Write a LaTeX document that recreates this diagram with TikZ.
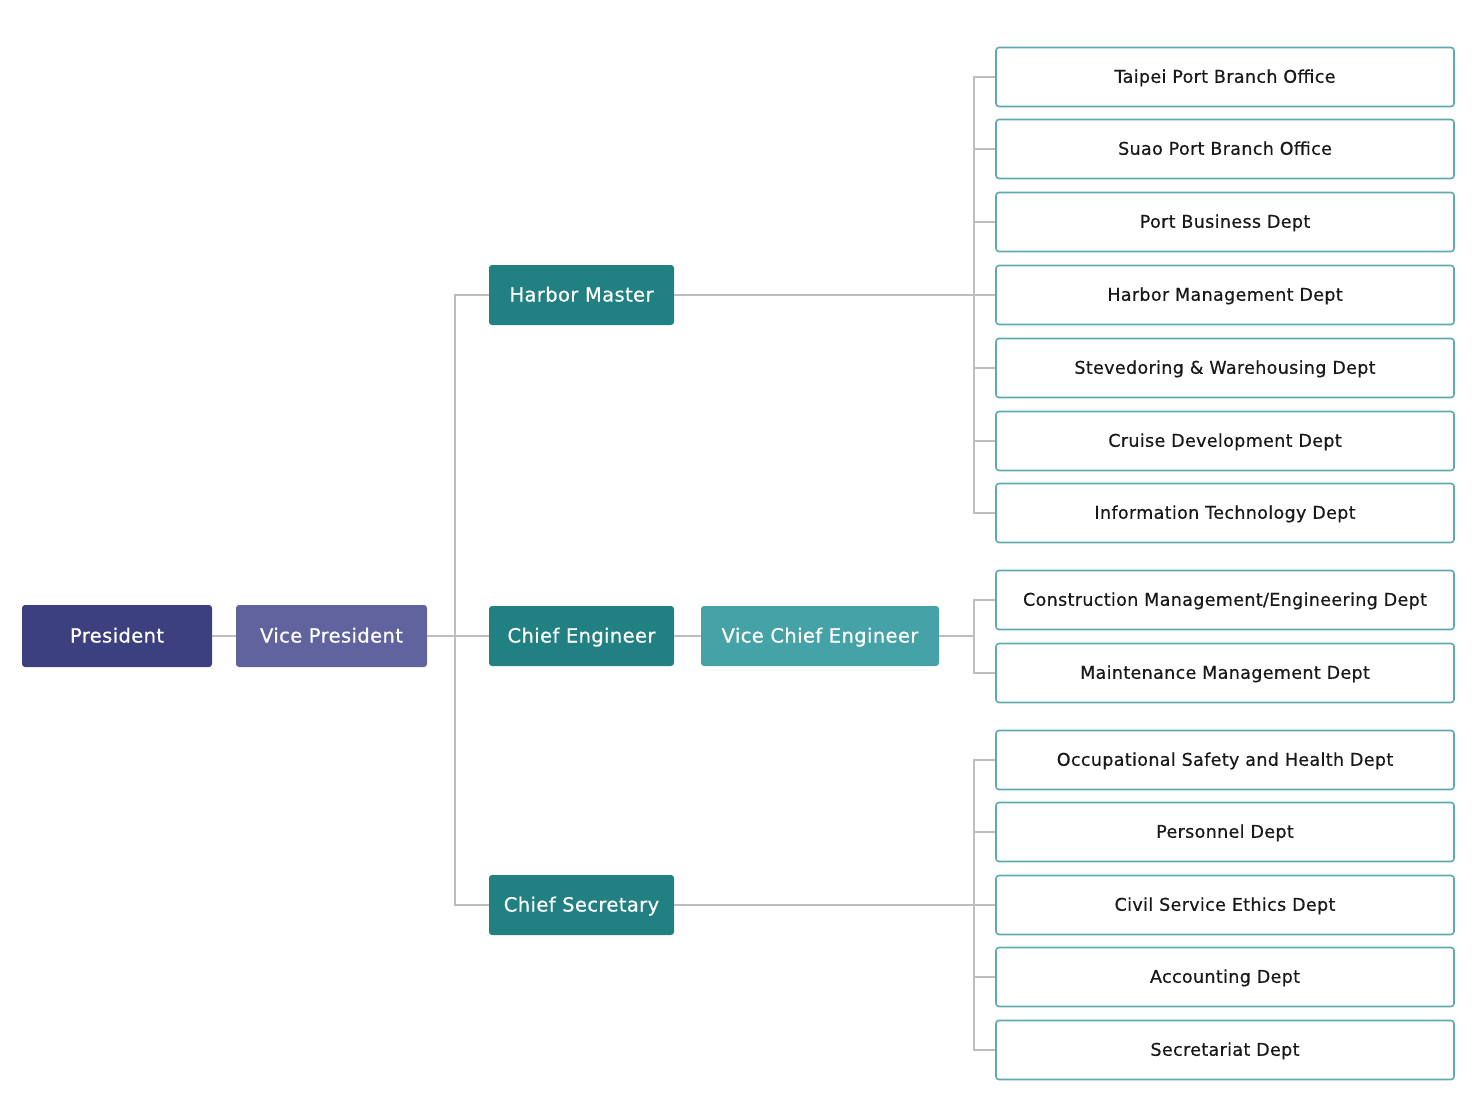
\documentclass[tikz,border=0pt]{standalone}
\usepackage{fontspec}
\setmainfont[LetterSpace=2,FakeBold=0.6]{DejaVu Sans}
\usepackage{tikz}
\usetikzlibrary{positioning,calc}

\definecolor{navy}{RGB}{60,64,126}
\definecolor{lavender}{RGB}{96,99,158}
\definecolor{teal}{RGB}{33,128,130}
\definecolor{lightteal}{RGB}{69,163,168}
\definecolor{deptline}{RGB}{95,170,176}
\definecolor{linkgray}{RGB}{190,190,190}

\tikzset{
  head/.style={rounded corners=3pt,minimum height=62pt,text=white,
    font=\fontsize{19.5}{23}\selectfont,inner sep=0pt,
    text height=13pt,text depth=0pt},
  dept/.style={draw=deptline,line width=1.6pt,rounded corners=3pt,fill=white,
    minimum width=458pt,minimum height=59pt,inner sep=0pt,
    font=\fontsize{17.5}{21}\selectfont,text=black!90,
    text height=11.5pt,text depth=0pt},
  link/.style={draw=linkgray,line width=1.6pt},
}

\begin{document}
\begin{tikzpicture}[x=1pt,y=-1pt]
  \useasboundingbox (0,0) rectangle (1477,1108);

  % 上位の役職
  \node[head,fill=navy,minimum width=190pt] (pres) at (117,636) {President};
  \node[head,fill=lavender,minimum width=191pt] (vp) at (331.5,636) {Vice President};

  \node[head,fill=teal,minimum width=185pt,minimum height=60pt] (hm) at (581.5,295) {Harbor Master};
  \node[head,fill=teal,minimum width=185pt,minimum height=60pt] (ce) at (581.5,636) {Chief Engineer};
  \node[head,fill=teal,minimum width=185pt,minimum height=60pt] (cs) at (581.5,905) {Chief Secretary};
  \node[head,fill=lightteal,minimum width=238pt,minimum height=60pt] (vce) at (820,636) {Vice Chief Engineer};

  % 部門
  \foreach \i/\yy/\txt in {
      1/77/{Taipei Port Branch Office},
      2/149/{Suao Port Branch Office},
      3/222/{Port Business Dept},
      4/295/{Harbor Management Dept},
      5/368/{Stevedoring \& Warehousing Dept},
      6/441/{Cruise Development Dept},
      7/513/{Information Technology Dept},
      8/600/{Construction Management/Engineering Dept},
      9/673/{Maintenance Management Dept},
      10/760/{Occupational Safety and Health Dept},
      11/832/{Personnel Dept},
      12/905/{Civil Service Ethics Dept},
      13/977/{Accounting Dept},
      14/1050/{Secretariat Dept}}
    \node[dept] (d\i) at (1225,\yy) {\txt};

  % 分岐点
  \coordinate (trunk) at (455,636);
  \coordinate (busA) at (974,295);
  \coordinate (busB) at (974,636);
  \coordinate (busC) at (974,905);

  % 接続線
  \draw[link] (pres.east) -- (vp.west);
  \draw[link] (vp.east) -- (ce.west);
  \draw[link] (hm.west) -| (trunk) |- (cs.west);
  \draw[link] (ce.east) -- (vce.west);

  \draw[link] (hm.east) -- (d4.west);
  \foreach \i in {1,...,7}
    \draw[link] (busA) |- (d\i.west);

  \draw[link] (vce.east) -- (busB);
  \foreach \i in {8,9}
    \draw[link] (busB) |- (d\i.west);

  \draw[link] (cs.east) -- (d12.west);
  \foreach \i in {10,...,14}
    \draw[link] (busC) |- (d\i.west);
\end{tikzpicture}
\end{document}
